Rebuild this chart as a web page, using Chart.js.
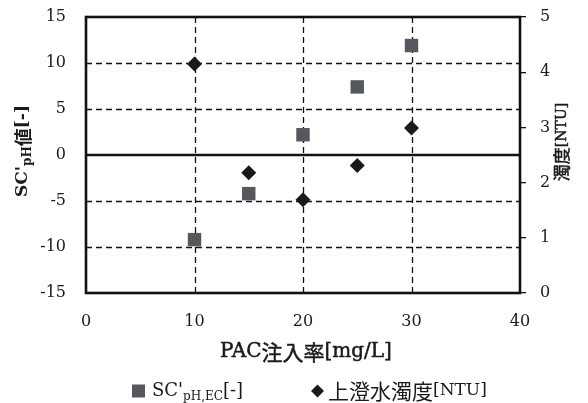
<!DOCTYPE html>
<html>
<head>
<meta charset="utf-8">
<script src="https://cdn.jsdelivr.net/npm/chart.js@4.4.1/dist/chart.umd.min.js"></script>
<style>
  html, body { margin: 0; padding: 0; background: #fff; }
  #wrap { width: 588px; height: 403px; position: relative; }
</style>
</head>
<body>
<div id="wrap"><canvas id="scatterChart"></canvas></div>
<script>
// data
const pacDose = [10, 15, 20, 25, 30];
const scValues = [-9.2, -4.2, 2.2, 7.4, 11.9];
const turbidity = [4.15, 2.18, 1.69, 2.31, 2.99];
const xTicks = [0, 10, 20, 30, 40];
const leftTicks = [-15, -10, -5, 0, 5, 10, 15];
const rightTicks = [0, 1, 2, 3, 4, 5];

const serif = "'DejaVu Serif', 'Liberation Serif', serif";
const cjk = "'Noto Sans CJK JP', 'DejaVu Serif', serif";

// draws text pieces one after another; p.s is the font size of a piece
const pieceFont = (p) => (p.bold ? "bold " : "") + p.s + "px " + (p.cjk ? cjk : serif);
const drawPieces = (ctx, pieces, x, y, heavy) => {
    let cx = x;
    pieces.forEach(p => {
        ctx.font = pieceFont(p);
        ctx.fillText(p.t, cx, y + (p.dy || 0));
        if (heavy) ctx.strokeText(p.t, cx, y + (p.dy || 0));
        cx += ctx.measureText(p.t).width;
    });
    return cx - x;
};
const measurePieces = (ctx, pieces) => {
    let w = 0;
    pieces.forEach(p => {
        ctx.font = pieceFont(p);
        w += ctx.measureText(p.t).width;
    });
    return w;
};

// fixed axis sizes so the plot area sits where the reference has it
const fitY = (width) => (s) => {
    s.width = width;
    s.paddingTop = 0;
    s.paddingBottom = 0;
};

const framePlugin = {
    id: "frame",
    beforeDatasetsDraw(chart) {
        const { ctx, chartArea: a, scales } = chart;
        ctx.save();
        ctx.strokeStyle = "#111";
        ctx.lineWidth = 1.3;
        ctx.setLineDash([6, 4]);
        [10, 20, 30].forEach(v => {
            const px = Math.round(scales.x.getPixelForValue(v)) + 0.5;
            ctx.beginPath(); ctx.moveTo(px, a.top); ctx.lineTo(px, a.bottom); ctx.stroke();
        });
        [-10, -5, 5, 10].forEach(v => {
            const py = Math.round(scales.y.getPixelForValue(v)) + 0.5;
            ctx.beginPath(); ctx.moveTo(a.left, py); ctx.lineTo(a.right, py); ctx.stroke();
        });
        ctx.setLineDash([]);
        ctx.lineWidth = 2.4;
        const y0 = scales.y.getPixelForValue(0);
        ctx.beginPath(); ctx.moveTo(a.left, y0); ctx.lineTo(a.right, y0); ctx.stroke();
        ctx.lineWidth = 2.6;
        ctx.strokeRect(a.left, a.top, a.right - a.left, a.bottom - a.top);
        ctx.restore();
    },
    afterDraw(chart) {
        const { ctx } = chart;
        ctx.save();
        ctx.fillStyle = "#1a1a1a";
        ctx.strokeStyle = "#1a1a1a";
        ctx.lineWidth = 0.5;
        ctx.textBaseline = "middle";

        // left axis title
        const leftTitle = [
            { t: "SC'", s: 17, bold: true },
            { t: "pH", s: 12, bold: true, dy: 5 },
            { t: "値", s: 18, cjk: true, bold: true },
            { t: "[-]", s: 17, bold: true }
        ];
        ctx.save();
        ctx.translate(23, 151);
        ctx.rotate(-Math.PI / 2);
        drawPieces(ctx, leftTitle, -measurePieces(ctx, leftTitle) / 2, 0);
        ctx.restore();

        // right axis title
        const rightTitle = [
            { t: "濁度", s: 17, cjk: true },
            { t: "[NTU]", s: 14 }
        ];
        ctx.save();
        ctx.translate(562, 142);
        ctx.rotate(-Math.PI / 2);
        drawPieces(ctx, rightTitle, -measurePieces(ctx, rightTitle) / 2, 0, true);
        ctx.restore();

        // x axis title
        const xTitle = [
            { t: "PAC", s: 20 },
            { t: "注入率", s: 21, cjk: true },
            { t: "[mg/L]", s: 20 }
        ];
        drawPieces(ctx, xTitle, 306 - measurePieces(ctx, xTitle) / 2, 352, true);

        // legend
        const ly = 391;
        ctx.fillStyle = "#55585c";
        ctx.fillRect(132, ly - 6.5, 13, 13);
        ctx.fillStyle = "#1a1a1a";
        drawPieces(ctx, [
            { t: "SC'", s: 18 },
            { t: "pH,EC", s: 12, dy: 6 },
            { t: "[-]", s: 18 }
        ], 152, ly);

        ctx.beginPath();
        ctx.moveTo(317.5, ly - 6.5); ctx.lineTo(324, ly); ctx.lineTo(317.5, ly + 6.5); ctx.lineTo(311, ly);
        ctx.closePath(); ctx.fill();
        drawPieces(ctx, [
            { t: "上澄水濁度", s: 21, cjk: true },
            { t: "[NTU]", s: 17 }
        ], 328, ly);
        ctx.restore();
    }
};

const tickFont = { family: serif, size: 16, lineHeight: 1.1 };

const config = {
    type: "scatter",
    data: {
        datasets: [
            {
                label: "SC'pH,EC[-]",
                data: pacDose.map((x, i) => ({ x: x, y: scValues[i] })),
                yAxisID: "y",
                pointStyle: "rect",
                pointRadius: 9.5,
                pointHoverRadius: 9.5,
                backgroundColor: "#55585c",
                borderColor: "#55585c",
                borderWidth: 0,
            },
            {
                label: "上澄水濁度[NTU]",
                data: pacDose.map((x, i) => ({ x: x, y: turbidity[i] })),
                yAxisID: "y1",
                pointStyle: "rectRot",
                pointRadius: 7.5,
                pointHoverRadius: 7.5,
                backgroundColor: "#1a1a1a",
                borderColor: "#1a1a1a",
                borderWidth: 0,
            },
        ],
    },
    options: {
        responsive: true,
        maintainAspectRatio: false,
        animation: false,
        layout: { padding: { top: 17, left: 0, right: 0, bottom: 0 } },
        plugins: {
            legend: { display: false },
            tooltip: { enabled: false },
        },
        scales: {
            x: {
                type: "linear",
                min: 0,
                max: 40,
                afterBuildTicks: s => { s.ticks = xTicks.map(v => ({ value: v })); },
                ticks: { font: tickFont, color: "#1a1a1a", padding: 12, maxRotation: 0 },
                grid: { display: false },
                border: { display: false },
                afterFit: s => { s.height = 110; s.paddingLeft = 0; s.paddingRight = 0; },
            },
            y: {
                type: "linear",
                position: "left",
                min: -15,
                max: 15,
                afterBuildTicks: s => { s.ticks = leftTicks.map(v => ({ value: v })); },
                ticks: { font: tickFont, color: "#1a1a1a", padding: 12 },
                grid: { display: false },
                border: { display: false },
                afterFit: fitY(86),
            },
            y1: {
                type: "linear",
                position: "right",
                min: 0,
                max: 5,
                afterBuildTicks: s => { s.ticks = rightTicks.map(v => ({ value: v })); },
                ticks: { font: tickFont, color: "#1a1a1a", padding: 14 },
                grid: { drawOnChartArea: false, drawTicks: true, tickLength: 6, color: "#111", lineWidth: 1.3 },
                border: { display: false },
                afterFit: fitY(68),
            },
        },
    },
    plugins: [framePlugin],
};

new Chart(document.getElementById("scatterChart"), config);
</script>
</body>
</html>
